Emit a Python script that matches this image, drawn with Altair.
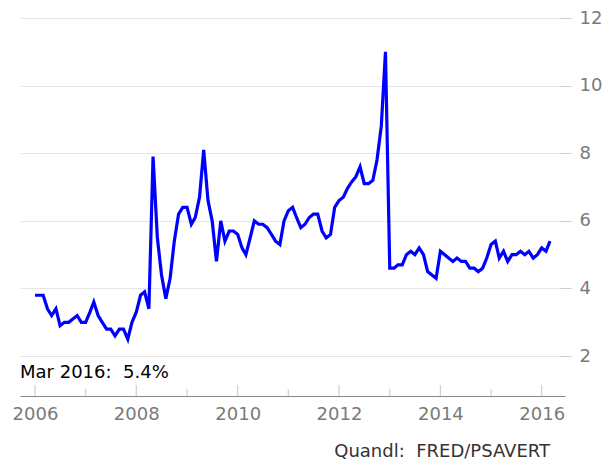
import altair as alt
import pandas as pd

# Personal saving rate (%), monthly, Jan 2006 - Mar 2016
rate_2006 = [3.8, 3.8, 3.8, 3.4, 3.2, 3.4, 2.9, 3.0, 3.0, 3.1, 3.2, 3.0]
rate_2007 = [3.0, 3.3, 3.6, 3.2, 3.0, 2.8, 2.8, 2.6, 2.8, 2.8, 2.5, 3.0]
rate_2008 = [3.3, 3.8, 3.9, 3.4, 7.9, 5.5, 4.4, 3.7, 4.3, 5.4, 6.2, 6.4]
rate_2009 = [6.4, 5.9, 6.1, 6.7, 8.1, 6.6, 6.0, 4.8, 6.0, 5.4, 5.7, 5.7]
rate_2010 = [5.6, 5.2, 5.0, 5.5, 6.0, 5.9, 5.9, 5.8, 5.6, 5.4, 5.3, 6.0]
rate_2011 = [6.3, 6.4, 6.1, 5.8, 5.9, 6.1, 6.2, 6.2, 5.7, 5.5, 5.6, 6.4]
rate_2012 = [6.6, 6.7, 6.95, 7.15, 7.3, 7.6, 7.1, 7.1, 7.2, 7.8, 8.8, 11.0]
rate_2013 = [4.6, 4.6, 4.7, 4.7, 5.0, 5.1, 5.0, 5.2, 5.0, 4.5, 4.4, 4.3]
rate_2014 = [5.1, 5.0, 4.9, 4.8, 4.9, 4.8, 4.8, 4.6, 4.6, 4.5, 4.6, 4.9]
rate_2015 = [5.3, 5.4, 4.9, 5.1, 4.8, 5.0, 5.0, 5.1, 5.0, 5.1, 4.9, 5.0]
rate_2016 = [5.2, 5.1, 5.4]

rates = (rate_2006 + rate_2007 + rate_2008 + rate_2009 + rate_2010 + rate_2011
         + rate_2012 + rate_2013 + rate_2014 + rate_2015 + rate_2016)
dates = pd.date_range("2006-01-01", periods=len(rates), freq="MS")

major_years = [2006, 2008, 2010, 2012, 2014, 2016]
minor_years = [2007, 2009, 2011, 2013, 2015]
y_ticks = [2, 4, 6, 8, 10, 12]

NBSP = "\u00a0"
source_label = f"Quandl:{NBSP}{NBSP}FRED/PSAVERT"

df = pd.DataFrame({"date": dates.strftime("%Y-%m-%dT00:00:00"), "rate": rates})
last = df.iloc[-1]
last_label = f"{pd.Timestamp(last['date']).strftime('%b %Y')}:{NBSP}{NBSP}{last['rate']:.1f}%"

major_df = pd.DataFrame({"date": [f"{y}-01-01T00:00:00" for y in major_years]})
minor_df = pd.DataFrame({"date": [f"{y}-01-01T00:00:00" for y in minor_years]})

FONT = "DejaVu Sans"

x_scale = alt.Scale(domain=[alt.DateTime(year=2005, month=9, date=15),
                            alt.DateTime(year=2016, month=6, date=17)])
y_scale = alt.Scale(domain=[0.82, 12], nice=False, zero=False)

x_enc = alt.X(
    "date:T", scale=x_scale, title=None,
    axis=alt.Axis(values=[alt.DateTime(year=y) for y in major_years], format="%Y",
                  ticks=False, grid=False, domainColor="#888888", domainWidth=1.2,
                  labelColor="#7a7a7a", labelFontSize=18, labelFont=FONT,
                  labelPadding=9, labelFlush=False),
)

line = alt.Chart(df).mark_line(color="#0000ff", strokeWidth=3.2).encode(
    x=x_enc,
    y=alt.Y("rate:Q", scale=y_scale, title=None,
            axis=alt.Axis(orient="right", values=y_ticks, grid=True, gridColor="#e6e6e6",
                          gridWidth=1.2, domain=False, tickColor="#cccccc", tickSize=11,
                          offset=-5, labelColor="#7a7a7a", labelFontSize=18,
                          labelFont=FONT, labelPadding=8)),
)

major_ticks = alt.Chart(major_df).mark_rule(color="#d0d0d0", strokeWidth=1.2).encode(
    x=alt.X("date:T", scale=x_scale), y=alt.value(367), y2=alt.value(378)
)
minor_ticks = alt.Chart(minor_df).mark_rule(color="#d0d0d0", strokeWidth=1.2).encode(
    x=alt.X("date:T", scale=x_scale), y=alt.value(371), y2=alt.value(378)
)

annot = alt.Chart(pd.DataFrame({"t": [last_label]})).mark_text(
    align="left", baseline="alphabetic", fontSize=18, font=FONT, color="#000000"
).encode(x=alt.value(0), y=alt.value(360), text="t:N")

source = alt.Chart(pd.DataFrame({"t": [source_label]})).mark_text(
    align="right", baseline="alphabetic", fontSize=18, font=FONT, color="#333333"
).encode(x=alt.value(530), y=alt.value(439), text="t:N")

chart = alt.layer(line, major_ticks, minor_ticks, annot, source).properties(
    width=545, height=378,
    autosize=alt.AutoSizeParams(type="none"),
    padding={"left": 12, "top": 10, "right": 41, "bottom": 66},
    background="white",
).configure_view(stroke=None)

chart.save("out.html", embed_options={"renderer": "svg", "actions": False})
